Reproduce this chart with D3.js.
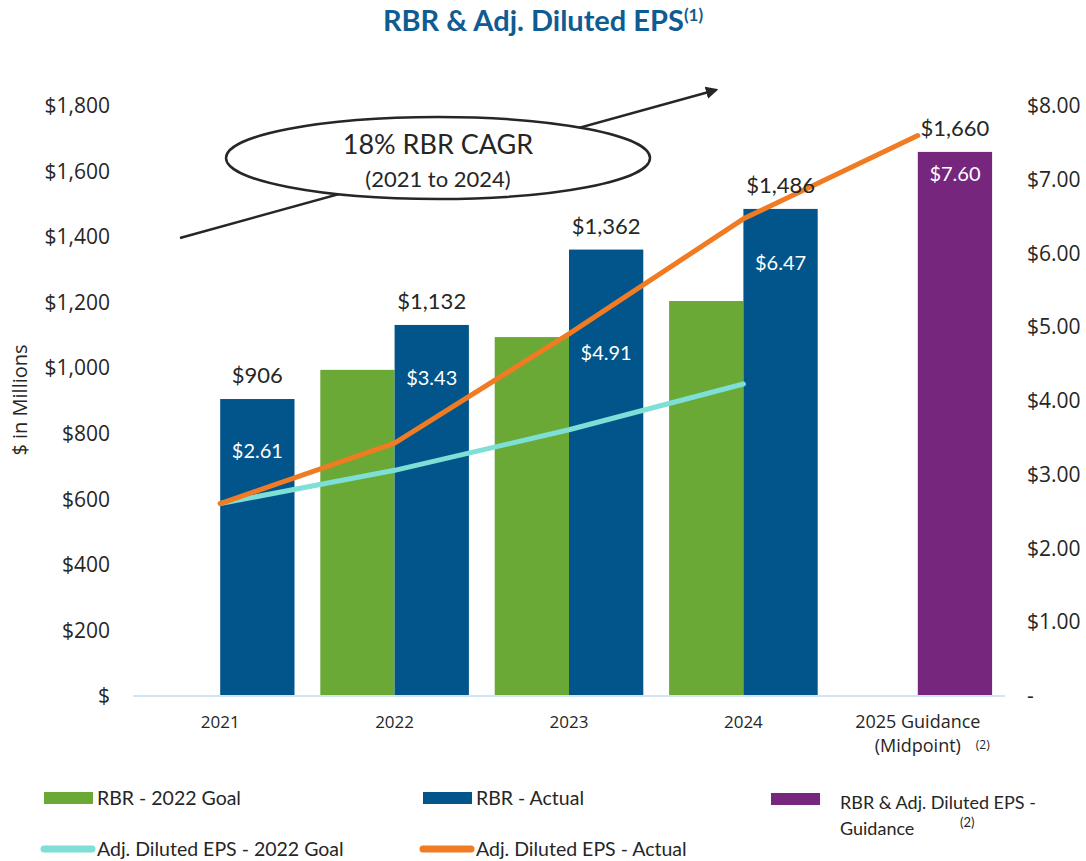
<!DOCTYPE html>
<html>
<head>
<meta charset="utf-8">
<script src="https://cdn.jsdelivr.net/npm/d3@7"></script>
<style>
  body { margin: 0; background: #fff; }
  svg { display: block; }
</style>
</head>
<body>
<svg id="chart" width="1086" height="861"></svg>
<script>
const categories = ['2021', '2022', '2023', '2024', '2025']
const rbrGoal = [null, 995, 1095, 1205, null]
const rbrActual = [906, 1132, 1362, 1486, null]
const rbrGuidance = [null, null, null, null, 1660]
const epsGoal = [2.61, 3.06, 3.61, 4.23, null]
const epsActual = [2.61, 3.43, 4.91, 6.47, 7.6]
const leftTicks = [0, 200, 400, 600, 800, 1000, 1200, 1400, 1600, 1800]
const rightTicks = [0, 1, 2, 3, 4, 5, 6, 7, 8]

const GREEN = '#6aa936'
const BLUE = '#01558b'
const PURPLE = '#77267d'
const TEAL = '#7ddfd6'
const ORANGE = '#f07b22'
const TEXT = '#262626'
const FONT = '"Open Sans", sans-serif'
const CFONT = 'Lato, sans-serif'

const svg = d3.select('#chart')
const plot = { left: 133, right: 1005, top: 106, bottom: 696 }

const x = d3.scaleBand().domain(categories).range([plot.left, plot.right]).padding(0)
const yL = d3.scaleLinear().domain([0, 1800]).range([plot.bottom, plot.top])
const yR = d3.scaleLinear().domain([0, 8]).range([plot.bottom, plot.top])
const barW = x.bandwidth() * 0.426
const cx = (c) => x(c) + x.bandwidth() / 2

// Title
const title = svg.append('text')
  .attr('x', 543)
  .attr('y', 31)
  .attr('text-anchor', 'middle')
  .style('font-family', CFONT)
  .style('font-weight', 700)
  .style('font-size', '29px')
  .style('fill', '#0f5c92')
title.append('tspan').text('RBR & Adj. Diluted EPS')
title.append('tspan').attr('dy', -10).style('font-size', '17px').text('(1)')

// Axes
const fmtL = (v) => (v === 0 ? '$' : '$' + d3.format(',')(v))
const fmtR = (v) => (v === 0 ? '-' : '$' + d3.format('.2f')(v))

const axL = svg.append('g')
  .attr('transform', `translate(${plot.left},0)`)
  .call(d3.axisLeft(yL).tickValues(leftTicks).tickSize(0).tickPadding(23).tickFormat(fmtL))
const axR = svg.append('g')
  .attr('transform', `translate(${plot.right},0)`)
  .call(d3.axisRight(yR).tickValues(rightTicks).tickSize(0).tickPadding(22).tickFormat(fmtR))
;[axL, axR].forEach((g) => {
  g.select('.domain').remove()
  g.selectAll('text')
    .style('font-family', FONT)
    .style('font-size', '21px')
    .style('fill', TEXT)
})

svg.append('text')
  .attr('transform', 'translate(27,400) rotate(-90)')
  .attr('text-anchor', 'middle')
  .style('font-family', FONT)
  .style('font-size', '20px')
  .style('fill', TEXT)
  .text('$ in Millions')

// Annotation arrow + ellipse
svg.append('defs').append('marker')
  .attr('id', 'arrowHead')
  .attr('viewBox', '0 0 10 10')
  .attr('refX', 8)
  .attr('refY', 5)
  .attr('markerWidth', 5)
  .attr('markerHeight', 5)
  .attr('orient', 'auto')
  .append('path')
  .attr('d', 'M0,0 L10,5 L0,10 Z')
  .attr('fill', TEXT)

svg.append('line')
  .attr('x1', 180).attr('y1', 238)
  .attr('x2', 716).attr('y2', 90)
  .attr('stroke', TEXT)
  .attr('stroke-width', 2.5)
  .attr('marker-end', 'url(#arrowHead)')

svg.append('ellipse')
  .attr('cx', 438).attr('cy', 158)
  .attr('rx', 212).attr('ry', 41)
  .attr('fill', '#fff')
  .attr('stroke', TEXT)
  .attr('stroke-width', 2.5)
svg.append('text')
  .attr('x', 438).attr('y', 154)
  .attr('text-anchor', 'middle')
  .style('font-family', CFONT)
  .style('font-size', '27px')
  .style('fill', TEXT)
  .text('18% RBR CAGR')
svg.append('text')
  .attr('x', 438).attr('y', 187)
  .attr('text-anchor', 'middle')
  .style('font-family', CFONT)
  .style('font-size', '22px')
  .style('fill', TEXT)
  .text('(2021 to 2024)')

// Bars
const rows = categories.map((c, i) => ({
  c,
  goal: rbrGoal[i],
  actual: rbrActual[i],
  guide: rbrGuidance[i],
  epsGoal: epsGoal[i],
  eps: epsActual[i],
}))

svg.selectAll('rect.goal')
  .data(rows.filter((d) => d.goal != null))
  .enter().append('rect')
  .attr('class', 'goal')
  .attr('x', (d) => cx(d.c) - barW)
  .attr('y', (d) => yL(d.goal))
  .attr('width', barW)
  .attr('height', (d) => yL(0) - yL(d.goal))
  .attr('fill', GREEN)

svg.selectAll('rect.actual')
  .data(rows.filter((d) => d.actual != null))
  .enter().append('rect')
  .attr('class', 'actual')
  .attr('x', (d) => cx(d.c))
  .attr('y', (d) => yL(d.actual))
  .attr('width', barW)
  .attr('height', (d) => yL(0) - yL(d.actual))
  .attr('fill', BLUE)

svg.selectAll('rect.guide')
  .data(rows.filter((d) => d.guide != null))
  .enter().append('rect')
  .attr('class', 'guide')
  .attr('x', (d) => cx(d.c))
  .attr('y', (d) => yL(d.guide))
  .attr('width', barW)
  .attr('height', (d) => yL(0) - yL(d.guide))
  .attr('fill', PURPLE)

// baseline
svg.append('line')
  .attr('x1', plot.left).attr('x2', plot.right)
  .attr('y1', yL(0)).attr('y2', yL(0))
  .attr('stroke', '#cfe5f6')
  .attr('stroke-width', 2)

// x labels
svg.selectAll('text.xlab')
  .data(categories.slice(0, 4))
  .enter().append('text')
  .attr('class', 'xlab')
  .attr('x', cx)
  .attr('y', 728)
  .attr('text-anchor', 'middle')
  .style('font-family', FONT)
  .style('font-size', '17px')
  .style('fill', TEXT)
  .text((d) => d)
svg.append('text')
  .attr('x', cx('2025'))
  .attr('y', 728)
  .attr('text-anchor', 'middle')
  .style('font-family', FONT)
  .style('font-size', '18px')
  .style('fill', TEXT)
  .text('2025 Guidance')
svg.append('text')
  .attr('x', cx('2025'))
  .attr('y', 752)
  .attr('text-anchor', 'middle')
  .style('font-family', FONT)
  .style('font-size', '18px')
  .style('fill', TEXT)
  .text('(Midpoint)')
svg.append('text')
  .attr('x', cx('2025') + 58)
  .attr('y', 749)
  .style('font-family', FONT)
  .style('font-size', '12px')
  .style('fill', TEXT)
  .text('(2)')

// Lines
const lineGoal = d3.line()
  .defined((d) => d.epsGoal != null)
  .x((d) => cx(d.c))
  .y((d) => yR(d.epsGoal))
const lineAct = d3.line()
  .x((d) => cx(d.c))
  .y((d) => yR(d.eps))

svg.append('path')
  .datum(rows.filter((d) => d.epsGoal != null))
  .attr('d', lineGoal)
  .attr('fill', 'none')
  .attr('stroke', TEAL)
  .attr('stroke-width', 5)
  .attr('stroke-linecap', 'round')
  .attr('stroke-linejoin', 'round')
svg.append('path')
  .datum(rows)
  .attr('d', lineAct)
  .attr('fill', 'none')
  .attr('stroke', ORANGE)
  .attr('stroke-width', 5)
  .attr('stroke-linecap', 'round')
  .attr('stroke-linejoin', 'round')

// RBR value labels above bars
svg.selectAll('text.rbr')
  .data(rows)
  .enter().append('text')
  .attr('class', 'rbr')
  .attr('x', (d) => cx(d.c) + barW / 2)
  .attr('y', (d) => yL(d.actual != null ? d.actual : d.guide) - 16)
  .attr('text-anchor', 'middle')
  .style('font-family', CFONT)
  .style('font-size', '22px')
  .style('fill', TEXT)
  .text((d) => '$' + d3.format(',')(d.actual != null ? d.actual : d.guide))

// EPS labels inside bars (offset below bar top)
const epsLabelOffset = [59, 60, 110, 61, 29]
svg.selectAll('text.eps')
  .data(rows)
  .enter().append('text')
  .attr('class', 'eps')
  .attr('x', (d) => cx(d.c) + barW / 2)
  .attr('y', (d, i) => yL(d.actual != null ? d.actual : d.guide) + epsLabelOffset[i])
  .attr('text-anchor', 'middle')
  .style('font-family', CFONT)
  .style('font-size', '20px')
  .style('fill', '#fff')
  .text((d) => '$' + d3.format('.2f')(d.eps))

// Legend
const legend = [
  { label: 'RBR - 2022 Goal', color: GREEN, type: 'rect', x: 44, y: 798 },
  { label: 'RBR - Actual', color: BLUE, type: 'rect', x: 423, y: 798 },
  { label: 'RBR & Adj. Diluted EPS -', color: PURPLE, type: 'rect', x: 771, y: 799 },
  { label: 'Adj. Diluted EPS - 2022 Goal', color: TEAL, type: 'line', x: 44, y: 849 },
  { label: 'Adj. Diluted EPS - Actual', color: ORANGE, type: 'line', x: 423, y: 849 },
]
const lg = svg.selectAll('g.legend')
  .data(legend)
  .enter().append('g')
  .attr('class', 'legend')
  .attr('transform', (d) => `translate(${d.x},${d.y})`)
lg.filter((d) => d.type === 'rect').append('rect')
  .attr('x', 0).attr('y', -6)
  .attr('width', 49).attr('height', 12)
  .attr('fill', (d) => d.color)
lg.filter((d) => d.type === 'line').append('line')
  .attr('x1', 0).attr('x2', 48)
  .attr('y1', 0).attr('y2', 0)
  .attr('stroke', (d) => d.color)
  .attr('stroke-width', 7)
  .attr('stroke-linecap', 'round')
lg.append('text')
  .attr('x', (d) => (d.color === PURPLE ? 69 : 53))
  .attr('y', (d) => (d.color === PURPLE ? 10 : 7))
  .style('font-family', CFONT)
  .style('font-size', (d) => (d.color === PURPLE ? '18px' : '19.5px'))
  .style('fill', TEXT)
  .text((d) => d.label)
svg.append('text')
  .attr('x', 840)
  .attr('y', 835)
  .style('font-family', CFONT)
  .style('font-size', '18px')
  .style('fill', TEXT)
  .text('Guidance')
svg.append('text')
  .attr('x', 960)
  .attr('y', 827)
  .style('font-family', CFONT)
  .style('font-size', '13px')
  .style('fill', TEXT)
  .text('(2)')
</script>
</body>
</html>
